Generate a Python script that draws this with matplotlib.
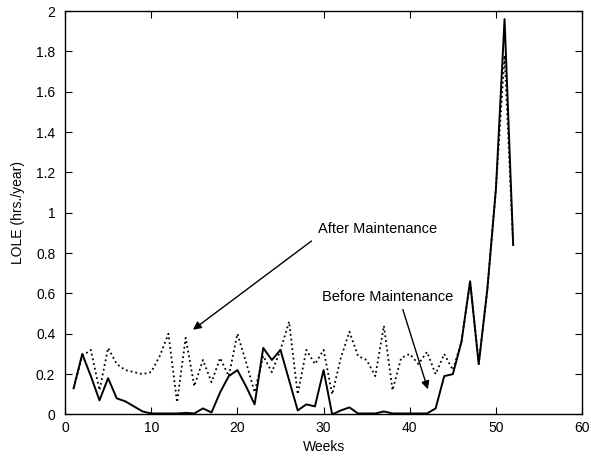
import matplotlib
matplotlib.use("Agg")
import matplotlib.pyplot as plt
from matplotlib.ticker import FormatStrFormatter
import numpy as np

plt.rcParams['font.family'] = ['Liberation Sans', 'DejaVu Sans']

weeks = np.arange(1, 53)

# LOLE per week, solid curve
lole_solid = [0.13, 0.30, 0.19, 0.07, 0.18, 0.08, 0.065, 0.04, 0.015, 0.005,
              0.005, 0.005, 0.005, 0.008, 0.005, 0.03, 0.01, 0.11, 0.19, 0.22,
              0.14, 0.05, 0.33, 0.27, 0.32, 0.17, 0.02, 0.05, 0.04, 0.22,
              0.0, 0.02, 0.035, 0.005, 0.005, 0.005, 0.015, 0.005, 0.005, 0.005,
              0.005, 0.005, 0.03, 0.19, 0.20, 0.36, 0.66, 0.25, 0.62, 1.12,
              1.96, 0.84]

# LOLE per week, dotted curve
lole_dotted = [0.13, 0.29, 0.32, 0.12, 0.33, 0.25, 0.22, 0.21, 0.20, 0.21,
               0.29, 0.40, 0.06, 0.38, 0.14, 0.27, 0.16, 0.28, 0.19, 0.40,
               0.26, 0.11, 0.29, 0.21, 0.32, 0.46, 0.10, 0.32, 0.25, 0.32,
               0.10, 0.28, 0.41, 0.29, 0.27, 0.19, 0.44, 0.12, 0.28, 0.30,
               0.25, 0.31, 0.20, 0.30, 0.22, 0.36, 0.66, 0.25, 0.62, 1.12,
               1.78, 0.84]

fig = plt.figure(figsize=(5.91, 4.59), dpi=100)
ax = fig.add_axes([0.110, 0.097, 0.875, 0.879])

ax.plot(weeks, lole_solid, color='black', lw=1.4, linestyle='-')
ax.plot(weeks, lole_dotted, color='black', lw=1.3, linestyle=':')

ax.set_xlim(0, 60)
ax.set_ylim(0, 2)
ax.set_xticks(np.arange(0, 61, 10))
ax.set_yticks(np.arange(0, 2.01, 0.2))
ax.yaxis.set_major_formatter(FormatStrFormatter('%g'))
ax.tick_params(direction='in', top=True, right=True, labelsize=10, length=5)
ax.tick_params(axis='y', pad=7)
ax.tick_params(axis='x', pad=5)
for s in ax.spines.values():
    s.set_linewidth(1.0)

ax.set_xlabel('Weeks', fontsize=10, labelpad=3)
ax.set_ylabel('LOLE (hrs./year)', fontsize=10, labelpad=8)

arrow = dict(arrowstyle='-|>', color='black', lw=1.0, mutation_scale=12,
             shrinkA=0, shrinkB=0)
ax.annotate('', xy=(14.85, 0.42), xytext=(28.6, 0.86), arrowprops=arrow)
ax.text(29.4, 0.92, 'After Maintenance', fontsize=10.5, va='center', ha='left')
ax.annotate('', xy=(42.1, 0.125), xytext=(39.2, 0.52), arrowprops=arrow)
ax.text(29.8, 0.58, 'Before Maintenance', fontsize=10.5, va='center', ha='left')

fig.savefig('out.png', dpi=100)
